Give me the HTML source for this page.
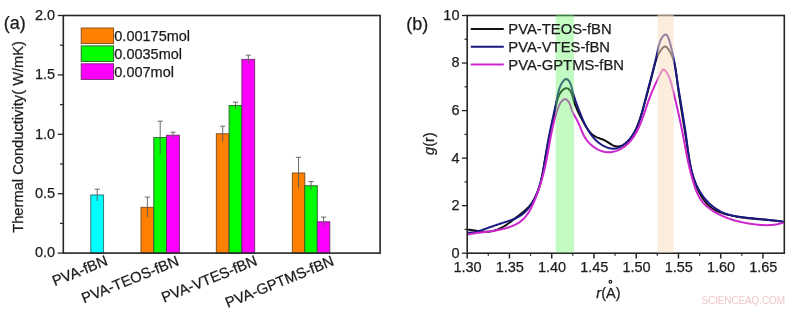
<!DOCTYPE html><html><head><meta charset="utf-8"><style>html,body{margin:0;padding:0;background:#fff;overflow:hidden;}svg{display:block;will-change:transform;}text{font-family:"Liberation Sans",sans-serif;fill:#1c1c1c;stroke:#1c1c1c;stroke-width:0.25px;}</style></head><body>
<svg width="800" height="309" viewBox="0 0 800 309">
<rect x="0" y="0" width="800" height="309" fill="#fff"/>
<rect x="90.80" y="195.00" width="12.80" height="58.10" fill="#00ffff" stroke="#2a6a6a" stroke-width="0.9"/>
<path d="M97.20,189.20 V201.00 M94.60,189.20 H99.80" stroke="#5a5a5a" stroke-width="0.9" fill="none"/>
<rect x="141.00" y="207.30" width="12.80" height="45.80" fill="#ff8000" stroke="#7a4a1a" stroke-width="0.9"/>
<path d="M147.40,197.10 V217.30 M144.80,197.10 H150.00" stroke="#5a5a5a" stroke-width="0.9" fill="none"/>
<rect x="153.80" y="137.60" width="12.80" height="115.50" fill="#00ff00" stroke="#2a5a2a" stroke-width="0.9"/>
<path d="M160.20,121.20 V154.00 M157.60,121.20 H162.80" stroke="#5a5a5a" stroke-width="0.9" fill="none"/>
<rect x="166.60" y="135.20" width="12.80" height="117.90" fill="#ff00ff" stroke="#6a2a6a" stroke-width="0.9"/>
<path d="M173.00,132.20 V138.20 M170.40,132.20 H175.60" stroke="#5a5a5a" stroke-width="0.9" fill="none"/>
<rect x="216.30" y="133.80" width="12.80" height="119.30" fill="#ff8000" stroke="#7a4a1a" stroke-width="0.9"/>
<path d="M222.70,126.20 V141.40 M220.10,126.20 H225.30" stroke="#5a5a5a" stroke-width="0.9" fill="none"/>
<rect x="229.10" y="105.60" width="12.80" height="147.50" fill="#00ff00" stroke="#2a5a2a" stroke-width="0.9"/>
<path d="M235.50,102.20 V109.00 M232.90,102.20 H238.10" stroke="#5a5a5a" stroke-width="0.9" fill="none"/>
<rect x="241.90" y="59.40" width="12.80" height="193.70" fill="#ff00ff" stroke="#6a2a6a" stroke-width="0.9"/>
<path d="M248.30,55.20 V63.60 M245.70,55.20 H250.90" stroke="#5a5a5a" stroke-width="0.9" fill="none"/>
<rect x="292.30" y="173.00" width="12.50" height="80.10" fill="#ff8000" stroke="#7a4a1a" stroke-width="0.9"/>
<path d="M298.55,157.30 V188.50 M295.95,157.30 H301.15" stroke="#5a5a5a" stroke-width="0.9" fill="none"/>
<rect x="304.80" y="185.80" width="12.50" height="67.30" fill="#00ff00" stroke="#2a5a2a" stroke-width="0.9"/>
<path d="M311.05,181.60 V190.00 M308.45,181.60 H313.65" stroke="#5a5a5a" stroke-width="0.9" fill="none"/>
<rect x="317.30" y="221.80" width="12.50" height="31.30" fill="#ff00ff" stroke="#6a2a6a" stroke-width="0.9"/>
<path d="M323.55,217.10 V226.50 M320.95,217.10 H326.15" stroke="#5a5a5a" stroke-width="0.9" fill="none"/>
<rect x="81.2" y="28.00" width="32.4" height="15.6" fill="#ff8000" stroke="#7a4a1a" stroke-width="0.9"/>
<text x="114.3" y="41.20" font-size="14.5">0.00175mol</text>
<rect x="81.2" y="45.90" width="32.4" height="15.6" fill="#00ff00" stroke="#2a5a2a" stroke-width="0.9"/>
<text x="114.3" y="59.10" font-size="14.5">0.0035mol</text>
<rect x="81.2" y="63.80" width="32.4" height="15.6" fill="#ff00ff" stroke="#6a2a6a" stroke-width="0.9"/>
<text x="114.3" y="77.00" font-size="14.5">0.007mol</text>
<rect x="63.30" y="15.50" width="316.80" height="237.60" fill="none" stroke="#262626" stroke-width="1.6"/>
<line x1="57.8" y1="15.50" x2="63.30" y2="15.50" stroke="#262626" stroke-width="1.3"/>
<text x="55.2" y="19.80" font-size="14.5" text-anchor="end">2.0</text>
<line x1="57.8" y1="74.90" x2="63.30" y2="74.90" stroke="#262626" stroke-width="1.3"/>
<text x="55.2" y="79.20" font-size="14.5" text-anchor="end">1.5</text>
<line x1="57.8" y1="134.30" x2="63.30" y2="134.30" stroke="#262626" stroke-width="1.3"/>
<text x="55.2" y="138.60" font-size="14.5" text-anchor="end">1.0</text>
<line x1="57.8" y1="193.70" x2="63.30" y2="193.70" stroke="#262626" stroke-width="1.3"/>
<text x="55.2" y="198.00" font-size="14.5" text-anchor="end">0.5</text>
<line x1="57.8" y1="253.10" x2="63.30" y2="253.10" stroke="#262626" stroke-width="1.3"/>
<text x="55.2" y="257.40" font-size="14.5" text-anchor="end">0.0</text>
<line x1="60" y1="45.20" x2="63.30" y2="45.20" stroke="#262626" stroke-width="1.2"/>
<line x1="60" y1="104.60" x2="63.30" y2="104.60" stroke="#262626" stroke-width="1.2"/>
<line x1="60" y1="164.00" x2="63.30" y2="164.00" stroke="#262626" stroke-width="1.2"/>
<line x1="60" y1="223.40" x2="63.30" y2="223.40" stroke="#262626" stroke-width="1.2"/>
<text x="108.60" y="264.60" font-size="14.8" text-anchor="end" transform="rotate(-22 108.60 264.60)">PVA-fBN</text>
<text x="179.90" y="264.80" font-size="14.8" text-anchor="end" transform="rotate(-22 179.90 264.80)">PVA-TEOS-fBN</text>
<text x="258.20" y="264.60" font-size="14.8" text-anchor="end" transform="rotate(-22 258.20 264.60)">PVA-VTES-fBN</text>
<text x="335.00" y="264.80" font-size="14.8" text-anchor="end" transform="rotate(-22 335.00 264.80)">PVA-GPTMS-fBN</text>
<text x="0" y="0" font-size="14.7" text-anchor="middle" transform="translate(23.3 136.9) rotate(-90)">Thermal Conductivity( W/mK)</text>
<text x="3.8" y="29" font-size="18">(a)</text>
<path d="M467.22,229.65 L468.10,229.69 L468.99,229.76 L469.88,229.84 L470.79,229.94 L471.69,230.06 L472.60,230.18 L473.52,230.32 L474.44,230.46 L475.36,230.61 L476.28,230.76 L477.21,230.91 L478.14,231.06 L479.07,231.20 L479.99,231.33 L480.92,231.45 L481.85,231.56 L482.78,231.65 L483.71,231.72 L484.63,231.77 L485.55,231.80 L486.47,231.80 L487.38,231.78 L488.29,231.72 L489.20,231.63 L490.10,231.52 L491.00,231.37 L491.89,231.20 L492.77,231.01 L493.65,230.79 L494.53,230.54 L495.39,230.27 L496.25,229.98 L497.11,229.67 L497.95,229.34 L498.79,228.99 L499.63,228.61 L500.45,228.22 L501.27,227.81 L502.08,227.39 L502.87,226.95 L503.67,226.50 L504.45,226.03 L505.22,225.55 L505.99,225.06 L506.75,224.55 L507.51,224.04 L508.26,223.51 L509.00,222.98 L509.75,222.44 L510.49,221.89 L511.22,221.34 L511.96,220.78 L512.69,220.22 L513.43,219.66 L514.16,219.09 L514.89,218.52 L515.63,217.96 L516.37,217.39 L517.11,216.82 L517.85,216.25 L518.59,215.68 L519.33,215.11 L520.07,214.54 L520.80,213.97 L521.53,213.39 L522.25,212.81 L522.97,212.22 L523.68,211.63 L524.38,211.03 L525.07,210.42 L525.75,209.80 L526.42,209.18 L527.07,208.55 L527.71,207.91 L528.34,207.26 L528.95,206.59 L529.54,205.92 L530.12,205.23 L530.68,204.54 L531.22,203.83 L531.74,203.11 L532.25,202.38 L532.75,201.64 L533.22,200.88 L533.69,200.12 L534.14,199.35 L534.57,198.57 L534.99,197.78 L535.40,196.99 L535.80,196.18 L536.18,195.37 L536.55,194.54 L536.90,193.71 L537.25,192.88 L537.58,192.03 L537.91,191.18 L538.22,190.33 L538.52,189.46 L538.81,188.59 L539.10,187.72 L539.37,186.84 L539.63,185.95 L539.89,185.06 L540.14,184.16 L540.38,183.27 L540.61,182.36 L540.83,181.45 L541.05,180.54 L541.26,179.63 L541.47,178.71 L541.67,177.79 L541.86,176.87 L542.05,175.95 L542.24,175.02 L542.42,174.10 L542.59,173.17 L542.77,172.24 L542.93,171.31 L543.10,170.38 L543.26,169.45 L543.42,168.52 L543.58,167.59 L543.74,166.66 L543.90,165.73 L544.05,164.80 L544.21,163.88 L544.36,162.95 L544.52,162.03 L544.67,161.11 L544.83,160.19 L544.98,159.28 L545.14,158.37 L545.30,157.46 L545.46,156.56 L545.63,155.65 L545.79,154.75 L545.96,153.86 L546.12,152.96 L546.29,152.07 L546.46,151.18 L546.63,150.29 L546.80,149.40 L546.97,148.51 L547.14,147.63 L547.32,146.75 L547.49,145.86 L547.67,144.98 L547.85,144.10 L548.02,143.22 L548.20,142.35 L548.38,141.47 L548.56,140.59 L548.74,139.71 L548.93,138.84 L549.11,137.96 L549.29,137.08 L549.48,136.21 L549.66,135.33 L549.85,134.45 L550.04,133.57 L550.22,132.69 L550.41,131.81 L550.60,130.93 L550.79,130.05 L550.98,129.17 L551.17,128.28 L551.36,127.40 L551.55,126.51 L551.74,125.62 L551.93,124.73 L552.13,123.84 L552.32,122.94 L552.51,122.04 L552.71,121.14 L552.90,120.24 L553.09,119.34 L553.29,118.43 L553.48,117.52 L553.68,116.61 L553.87,115.69 L554.07,114.77 L554.26,113.85 L554.46,112.92 L554.65,111.99 L554.85,111.06 L555.04,110.12 L555.24,109.18 L555.43,108.23 L555.63,107.28 L555.82,106.33 L556.02,105.37 L556.23,104.42 L556.44,103.47 L556.66,102.53 L556.89,101.59 L557.13,100.67 L557.39,99.75 L557.66,98.85 L557.96,97.96 L558.27,97.09 L558.60,96.25 L558.96,95.42 L559.35,94.62 L559.76,93.84 L560.20,93.10 L560.67,92.38 L561.18,91.70 L561.72,91.05 L562.30,90.44 L562.92,89.86 L563.58,89.33 L564.28,88.86 L565.01,88.49 L565.77,88.27 L566.53,88.24 L567.29,88.39 L568.02,88.69 L568.69,89.11 L569.30,89.64 L569.85,90.25 L570.35,90.95 L570.80,91.72 L571.21,92.55 L571.58,93.44 L571.92,94.36 L572.24,95.33 L572.54,96.31 L572.82,97.31 L573.10,98.31 L573.37,99.31 L573.66,100.29 L573.94,101.25 L574.24,102.19 L574.54,103.12 L574.86,104.02 L575.17,104.91 L575.50,105.78 L575.83,106.63 L576.17,107.48 L576.52,108.31 L576.87,109.13 L577.23,109.94 L577.60,110.75 L577.97,111.54 L578.35,112.34 L578.73,113.12 L579.12,113.91 L579.51,114.69 L579.91,115.47 L580.31,116.25 L580.72,117.03 L581.13,117.82 L581.55,118.61 L581.97,119.41 L582.39,120.21 L582.82,121.02 L583.25,121.83 L583.69,122.65 L584.14,123.47 L584.59,124.29 L585.06,125.10 L585.53,125.91 L586.02,126.71 L586.51,127.50 L587.02,128.28 L587.55,129.05 L588.09,129.80 L588.64,130.54 L589.21,131.26 L589.80,131.95 L590.41,132.62 L591.04,133.27 L591.69,133.89 L592.36,134.48 L593.06,135.04 L593.78,135.57 L594.52,136.06 L595.29,136.51 L596.09,136.93 L596.91,137.31 L597.75,137.66 L598.61,137.99 L599.49,138.31 L600.37,138.62 L601.26,138.94 L602.15,139.26 L603.03,139.61 L603.91,139.98 L604.78,140.38 L605.63,140.83 L606.47,141.31 L607.29,141.82 L608.10,142.36 L608.91,142.89 L609.71,143.43 L610.51,143.95 L611.31,144.45 L612.11,144.92 L612.92,145.33 L613.73,145.70 L614.56,146.00 L615.40,146.22 L616.25,146.36 L617.12,146.42 L617.98,146.41 L618.85,146.34 L619.71,146.20 L620.56,146.00 L621.39,145.74 L622.21,145.43 L623.00,145.07 L623.78,144.67 L624.53,144.22 L625.26,143.73 L625.98,143.20 L626.67,142.63 L627.34,142.03 L628.00,141.39 L628.63,140.73 L629.25,140.03 L629.85,139.31 L630.43,138.57 L630.99,137.81 L631.54,137.02 L632.07,136.22 L632.59,135.41 L633.08,134.59 L633.57,133.75 L634.03,132.91 L634.49,132.06 L634.92,131.22 L635.35,130.37 L635.76,129.52 L636.15,128.66 L636.54,127.81 L636.91,126.96 L637.27,126.11 L637.62,125.25 L637.96,124.40 L638.29,123.54 L638.61,122.69 L638.92,121.83 L639.23,120.97 L639.52,120.11 L639.81,119.25 L640.10,118.39 L640.37,117.53 L640.65,116.67 L640.91,115.81 L641.18,114.94 L641.44,114.08 L641.70,113.21 L641.95,112.35 L642.20,111.48 L642.45,110.61 L642.71,109.74 L642.96,108.87 L643.21,108.00 L643.46,107.13 L643.70,106.25 L643.95,105.38 L644.20,104.50 L644.45,103.63 L644.70,102.75 L644.95,101.87 L645.19,100.99 L645.44,100.11 L645.69,99.23 L645.93,98.35 L646.18,97.47 L646.42,96.59 L646.67,95.70 L646.91,94.82 L647.15,93.93 L647.39,93.05 L647.64,92.16 L647.88,91.27 L648.12,90.39 L648.36,89.50 L648.60,88.61 L648.84,87.72 L649.07,86.83 L649.31,85.94 L649.55,85.05 L649.78,84.15 L650.02,83.26 L650.25,82.37 L650.49,81.47 L650.72,80.58 L650.95,79.68 L651.18,78.79 L651.41,77.89 L651.64,76.99 L651.87,76.10 L652.09,75.20 L652.32,74.30 L652.55,73.40 L652.77,72.50 L652.99,71.60 L653.22,70.70 L653.44,69.80 L653.66,68.90 L653.88,68.00 L654.10,67.10 L654.33,66.21 L654.56,65.31 L654.79,64.42 L655.04,63.52 L655.29,62.64 L655.55,61.75 L655.82,60.87 L656.11,59.99 L656.41,59.12 L656.72,58.26 L657.06,57.40 L657.41,56.55 L657.77,55.70 L658.16,54.86 L658.58,54.03 L659.01,53.21 L659.47,52.40 L659.95,51.60 L660.47,50.81 L661.01,50.02 L661.58,49.25 L662.18,48.50 L662.81,47.78 L663.46,47.17 L664.12,46.71 L664.78,46.46 L665.43,46.48 L666.07,46.76 L666.69,47.25 L667.30,47.88 L667.88,48.62 L668.44,49.39 L668.97,50.17 L669.47,50.96 L669.95,51.76 L670.41,52.56 L670.84,53.38 L671.25,54.20 L671.64,55.04 L672.01,55.87 L672.36,56.72 L672.69,57.57 L673.00,58.43 L673.30,59.30 L673.57,60.17 L673.84,61.05 L674.08,61.93 L674.31,62.81 L674.53,63.71 L674.74,64.60 L674.93,65.50 L675.12,66.40 L675.29,67.31 L675.45,68.22 L675.61,69.13 L675.75,70.05 L675.89,70.97 L676.03,71.89 L676.15,72.81 L676.28,73.73 L676.40,74.65 L676.51,75.58 L676.63,76.50 L676.74,77.43 L676.85,78.35 L676.97,79.27 L677.08,80.20 L677.19,81.12 L677.31,82.04 L677.43,82.96 L677.55,83.88 L677.67,84.80 L677.79,85.71 L677.91,86.63 L678.04,87.54 L678.17,88.46 L678.29,89.37 L678.42,90.29 L678.55,91.20 L678.68,92.11 L678.82,93.02 L678.95,93.93 L679.08,94.84 L679.22,95.75 L679.35,96.66 L679.49,97.56 L679.63,98.47 L679.77,99.38 L679.91,100.28 L680.05,101.19 L680.19,102.09 L680.33,103.00 L680.47,103.90 L680.62,104.81 L680.76,105.71 L680.90,106.61 L681.05,107.52 L681.19,108.42 L681.34,109.32 L681.48,110.23 L681.63,111.13 L681.78,112.03 L681.92,112.93 L682.07,113.83 L682.22,114.74 L682.36,115.64 L682.51,116.54 L682.66,117.44 L682.81,118.34 L682.95,119.24 L683.10,120.15 L683.25,121.05 L683.39,121.95 L683.54,122.85 L683.69,123.75 L683.83,124.66 L683.98,125.56 L684.12,126.46 L684.27,127.37 L684.41,128.27 L684.56,129.18 L684.70,130.08 L684.84,130.99 L684.99,131.89 L685.13,132.80 L685.27,133.70 L685.41,134.61 L685.55,135.52 L685.69,136.43 L685.83,137.33 L685.97,138.24 L686.10,139.15 L686.24,140.06 L686.37,140.98 L686.51,141.89 L686.64,142.80 L686.77,143.71 L686.91,144.63 L687.04,145.54 L687.17,146.45 L687.30,147.37 L687.44,148.28 L687.57,149.20 L687.71,150.11 L687.85,151.02 L687.99,151.94 L688.13,152.85 L688.27,153.76 L688.41,154.68 L688.56,155.59 L688.71,156.50 L688.86,157.41 L689.01,158.32 L689.17,159.23 L689.33,160.14 L689.49,161.05 L689.66,161.95 L689.83,162.86 L690.00,163.76 L690.18,164.67 L690.37,165.57 L690.55,166.47 L690.75,167.37 L690.94,168.26 L691.14,169.16 L691.35,170.05 L691.57,170.95 L691.78,171.84 L692.01,172.72 L692.24,173.61 L692.48,174.50 L692.72,175.38 L692.97,176.26 L693.23,177.13 L693.49,178.01 L693.77,178.88 L694.05,179.75 L694.33,180.62 L694.63,181.49 L694.93,182.35 L695.24,183.21 L695.56,184.06 L695.89,184.92 L696.23,185.77 L696.57,186.62 L696.93,187.46 L697.29,188.30 L697.67,189.14 L698.05,189.97 L698.45,190.80 L698.85,191.63 L699.27,192.45 L699.69,193.27 L700.13,194.08 L700.58,194.88 L701.04,195.68 L701.51,196.47 L702.00,197.25 L702.49,198.02 L703.01,198.77 L703.53,199.52 L704.07,200.26 L704.62,200.98 L705.18,201.70 L705.77,202.39 L706.36,203.08 L706.97,203.75 L707.60,204.40 L708.24,205.04 L708.89,205.65 L709.57,206.26 L710.26,206.84 L710.97,207.40 L711.69,207.95 L712.43,208.47 L713.19,208.97 L713.97,209.45 L714.77,209.91 L715.58,210.35 L716.41,210.76 L717.26,211.15 L718.12,211.53 L718.99,211.88 L719.87,212.22 L720.75,212.54 L721.65,212.85 L722.55,213.15 L723.45,213.43 L724.36,213.70 L725.26,213.97 L726.16,214.22 L727.06,214.47 L727.96,214.70 L728.86,214.93 L729.76,215.15 L730.65,215.37 L731.55,215.57 L732.44,215.77 L733.34,215.96 L734.23,216.14 L735.12,216.32 L736.02,216.49 L736.91,216.66 L737.81,216.81 L738.70,216.97 L739.60,217.11 L740.49,217.25 L741.39,217.39 L742.29,217.52 L743.19,217.64 L744.09,217.76 L744.99,217.88 L745.90,217.99 L746.80,218.09 L747.71,218.20 L748.62,218.30 L749.53,218.39 L750.44,218.48 L751.36,218.57 L752.27,218.66 L753.19,218.74 L754.10,218.82 L755.02,218.90 L755.94,218.98 L756.86,219.06 L757.78,219.14 L758.70,219.21 L759.62,219.29 L760.54,219.36 L761.46,219.43 L762.38,219.51 L763.30,219.58 L764.22,219.66 L765.14,219.74 L766.06,219.81 L766.98,219.89 L767.90,219.98 L768.82,220.06 L769.74,220.14 L770.66,220.23 L771.57,220.32 L772.49,220.42 L773.41,220.52 L774.32,220.62 L775.23,220.72 L776.14,220.83 L777.05,220.94 L777.96,221.06 L778.87,221.18 L779.78,221.31 L780.68,221.45 L781.58,221.59 L782.48,221.73 L783.38,221.88 L784.28,222.04" fill="none" stroke="#111111" stroke-width="2" stroke-linejoin="round"/>
<path d="M467.20,232.55 L468.18,232.61 L469.17,232.63 L470.15,232.62 L471.12,232.56 L472.09,232.47 L473.06,232.35 L474.02,232.20 L474.98,232.03 L475.94,231.82 L476.89,231.60 L477.84,231.35 L478.79,231.08 L479.73,230.80 L480.67,230.51 L481.60,230.20 L482.53,229.88 L483.46,229.55 L484.39,229.22 L485.31,228.89 L486.23,228.55 L487.15,228.22 L488.06,227.89 L488.97,227.56 L489.88,227.23 L490.79,226.91 L491.69,226.59 L492.60,226.27 L493.51,225.96 L494.41,225.65 L495.32,225.34 L496.23,225.03 L497.14,224.72 L498.06,224.42 L498.97,224.12 L499.89,223.82 L500.82,223.52 L501.75,223.22 L502.68,222.92 L503.62,222.62 L504.57,222.33 L505.51,222.02 L506.46,221.72 L507.40,221.41 L508.34,221.10 L509.29,220.78 L510.22,220.45 L511.16,220.11 L512.09,219.76 L513.01,219.40 L513.92,219.03 L514.83,218.64 L515.72,218.24 L516.60,217.82 L517.47,217.38 L518.33,216.93 L519.18,216.45 L520.00,215.95 L520.81,215.43 L521.61,214.89 L522.38,214.32 L523.14,213.73 L523.87,213.11 L524.59,212.47 L525.29,211.80 L525.97,211.12 L526.63,210.41 L527.27,209.69 L527.90,208.94 L528.51,208.18 L529.10,207.41 L529.68,206.62 L530.24,205.81 L530.78,205.00 L531.31,204.17 L531.83,203.33 L532.33,202.49 L532.82,201.63 L533.30,200.77 L533.76,199.90 L534.21,199.03 L534.64,198.15 L535.07,197.27 L535.48,196.39 L535.88,195.50 L536.27,194.60 L536.65,193.70 L537.01,192.80 L537.37,191.90 L537.72,190.99 L538.05,190.07 L538.38,189.16 L538.70,188.23 L539.00,187.31 L539.30,186.38 L539.59,185.45 L539.87,184.52 L540.15,183.59 L540.41,182.65 L540.67,181.71 L540.92,180.76 L541.16,179.82 L541.40,178.87 L541.62,177.92 L541.85,176.97 L542.06,176.01 L542.28,175.06 L542.48,174.10 L542.68,173.14 L542.88,172.18 L543.07,171.21 L543.25,170.25 L543.43,169.28 L543.61,168.32 L543.78,167.35 L543.95,166.38 L544.12,165.41 L544.29,164.45 L544.45,163.48 L544.61,162.50 L544.76,161.53 L544.92,160.56 L545.07,159.59 L545.23,158.62 L545.38,157.65 L545.53,156.68 L545.68,155.71 L545.83,154.74 L545.98,153.77 L546.13,152.80 L546.28,151.83 L546.43,150.87 L546.58,149.90 L546.74,148.94 L546.89,147.97 L547.05,147.01 L547.21,146.05 L547.37,145.09 L547.54,144.13 L547.70,143.18 L547.87,142.22 L548.05,141.27 L548.22,140.32 L548.40,139.37 L548.58,138.42 L548.76,137.47 L548.94,136.52 L549.13,135.58 L549.32,134.63 L549.51,133.69 L549.70,132.74 L549.89,131.80 L550.09,130.85 L550.28,129.91 L550.48,128.96 L550.68,128.02 L550.88,127.08 L551.08,126.13 L551.28,125.19 L551.48,124.24 L551.69,123.30 L551.89,122.35 L552.10,121.40 L552.30,120.45 L552.51,119.51 L552.72,118.56 L552.92,117.60 L553.13,116.65 L553.34,115.70 L553.55,114.74 L553.75,113.79 L553.96,112.83 L554.17,111.87 L554.38,110.90 L554.58,109.94 L554.79,108.97 L555.00,108.00 L555.20,107.03 L555.41,106.06 L555.61,105.08 L555.82,104.11 L556.02,103.12 L556.22,102.14 L556.42,101.15 L556.62,100.16 L556.82,99.17 L557.01,98.17 L557.21,97.18 L557.42,96.18 L557.63,95.19 L557.84,94.21 L558.07,93.23 L558.31,92.26 L558.56,91.29 L558.82,90.34 L559.11,89.40 L559.41,88.48 L559.73,87.58 L560.07,86.69 L560.44,85.82 L560.84,84.97 L561.26,84.15 L561.72,83.35 L562.20,82.58 L562.72,81.83 L563.28,81.12 L563.87,80.44 L564.50,79.80 L565.17,79.31 L565.87,79.05 L566.59,79.10 L567.30,79.40 L567.97,79.88 L568.58,80.48 L569.12,81.18 L569.61,81.97 L570.04,82.84 L570.44,83.77 L570.79,84.76 L571.12,85.78 L571.42,86.83 L571.71,87.90 L571.98,88.97 L572.26,90.03 L572.53,91.07 L572.81,92.09 L573.09,93.09 L573.38,94.08 L573.66,95.04 L573.95,96.00 L574.25,96.94 L574.54,97.86 L574.84,98.78 L575.15,99.69 L575.45,100.58 L575.76,101.47 L576.08,102.36 L576.39,103.24 L576.71,104.11 L577.03,104.99 L577.36,105.86 L577.69,106.73 L578.02,107.60 L578.35,108.48 L578.69,109.36 L579.03,110.24 L579.37,111.13 L579.72,112.03 L580.07,112.93 L580.43,113.83 L580.79,114.74 L581.16,115.65 L581.53,116.56 L581.90,117.47 L582.29,118.38 L582.68,119.29 L583.07,120.21 L583.48,121.11 L583.89,122.02 L584.31,122.92 L584.74,123.82 L585.17,124.72 L585.62,125.61 L586.08,126.49 L586.54,127.37 L587.02,128.24 L587.51,129.11 L588.00,129.96 L588.51,130.81 L589.03,131.64 L589.57,132.47 L590.11,133.28 L590.67,134.08 L591.24,134.87 L591.83,135.65 L592.43,136.41 L593.04,137.16 L593.67,137.90 L594.31,138.61 L594.97,139.31 L595.65,140.00 L596.34,140.66 L597.05,141.31 L597.77,141.94 L598.51,142.55 L599.27,143.14 L600.05,143.70 L600.85,144.25 L601.66,144.77 L602.50,145.27 L603.35,145.74 L604.23,146.19 L605.12,146.62 L606.04,147.01 L606.97,147.38 L607.91,147.71 L608.87,148.00 L609.83,148.24 L610.80,148.43 L611.77,148.57 L612.74,148.65 L613.71,148.66 L614.67,148.60 L615.62,148.47 L616.56,148.27 L617.49,148.00 L618.40,147.67 L619.30,147.29 L620.19,146.85 L621.06,146.36 L621.91,145.84 L622.74,145.28 L623.55,144.68 L624.35,144.07 L625.12,143.43 L625.87,142.78 L626.60,142.11 L627.31,141.43 L628.00,140.73 L628.66,140.02 L629.31,139.30 L629.94,138.57 L630.55,137.82 L631.14,137.06 L631.72,136.29 L632.27,135.51 L632.81,134.72 L633.33,133.91 L633.84,133.10 L634.33,132.28 L634.81,131.44 L635.27,130.60 L635.71,129.75 L636.15,128.89 L636.57,128.02 L636.97,127.14 L637.37,126.26 L637.75,125.37 L638.12,124.47 L638.48,123.57 L638.83,122.66 L639.17,121.74 L639.50,120.82 L639.83,119.89 L640.14,118.96 L640.44,118.03 L640.74,117.09 L641.03,116.14 L641.31,115.20 L641.59,114.25 L641.86,113.29 L642.12,112.34 L642.38,111.38 L642.64,110.42 L642.89,109.46 L643.14,108.50 L643.39,107.54 L643.63,106.58 L643.87,105.62 L644.11,104.66 L644.34,103.70 L644.58,102.74 L644.82,101.78 L645.05,100.83 L645.29,99.87 L645.53,98.92 L645.77,97.97 L646.01,97.03 L646.25,96.08 L646.49,95.14 L646.73,94.20 L646.98,93.26 L647.22,92.33 L647.47,91.39 L647.71,90.46 L647.96,89.52 L648.20,88.59 L648.45,87.66 L648.70,86.73 L648.95,85.80 L649.19,84.87 L649.44,83.95 L649.69,83.02 L649.93,82.09 L650.18,81.16 L650.43,80.23 L650.68,79.30 L650.92,78.37 L651.17,77.44 L651.42,76.51 L651.66,75.58 L651.91,74.65 L652.15,73.71 L652.40,72.78 L652.64,71.84 L652.88,70.90 L653.12,69.96 L653.36,69.02 L653.60,68.08 L653.84,67.13 L654.08,66.18 L654.32,65.23 L654.55,64.27 L654.79,63.32 L655.02,62.36 L655.25,61.39 L655.48,60.43 L655.71,59.46 L655.94,58.49 L656.17,57.51 L656.39,56.53 L656.61,55.55 L656.83,54.56 L657.05,53.56 L657.27,52.57 L657.48,51.57 L657.70,50.56 L657.91,49.56 L658.13,48.55 L658.35,47.55 L658.59,46.56 L658.83,45.58 L659.09,44.61 L659.37,43.66 L659.66,42.72 L659.98,41.81 L660.32,40.92 L660.69,40.06 L661.09,39.23 L661.52,38.44 L661.99,37.67 L662.49,36.95 L663.04,36.27 L663.62,35.64 L664.23,35.10 L664.83,34.70 L665.41,34.51 L665.95,34.53 L666.46,34.76 L666.93,35.16 L667.37,35.73 L667.78,36.43 L668.17,37.25 L668.54,38.16 L668.88,39.14 L669.21,40.17 L669.53,41.23 L669.83,42.29 L670.13,43.35 L670.41,44.40 L670.69,45.44 L670.96,46.48 L671.22,47.51 L671.48,48.54 L671.72,49.56 L671.96,50.58 L672.19,51.59 L672.42,52.60 L672.64,53.60 L672.85,54.59 L673.05,55.59 L673.26,56.58 L673.45,57.56 L673.64,58.54 L673.83,59.52 L674.01,60.49 L674.18,61.46 L674.36,62.43 L674.53,63.40 L674.69,64.36 L674.85,65.32 L675.01,66.28 L675.17,67.23 L675.32,68.18 L675.47,69.14 L675.62,70.09 L675.77,71.03 L675.91,71.98 L676.06,72.93 L676.20,73.87 L676.35,74.82 L676.49,75.76 L676.63,76.71 L676.78,77.65 L676.92,78.60 L677.07,79.54 L677.21,80.49 L677.36,81.43 L677.50,82.38 L677.65,83.32 L677.80,84.27 L677.95,85.22 L678.11,86.17 L678.26,87.12 L678.41,88.06 L678.57,89.01 L678.72,89.97 L678.88,90.92 L679.03,91.87 L679.19,92.82 L679.35,93.77 L679.50,94.73 L679.66,95.68 L679.82,96.64 L679.98,97.59 L680.14,98.55 L680.30,99.50 L680.46,100.46 L680.62,101.42 L680.78,102.38 L680.94,103.33 L681.10,104.29 L681.26,105.25 L681.42,106.21 L681.58,107.17 L681.74,108.14 L681.90,109.10 L682.06,110.06 L682.22,111.02 L682.38,111.99 L682.54,112.95 L682.69,113.92 L682.85,114.88 L683.01,115.85 L683.17,116.82 L683.32,117.78 L683.48,118.75 L683.64,119.72 L683.79,120.69 L683.94,121.66 L684.10,122.63 L684.25,123.60 L684.40,124.57 L684.55,125.55 L684.70,126.52 L684.85,127.49 L685.00,128.47 L685.14,129.44 L685.29,130.42 L685.43,131.39 L685.58,132.37 L685.72,133.35 L685.86,134.33 L686.00,135.31 L686.14,136.28 L686.27,137.26 L686.41,138.24 L686.54,139.23 L686.67,140.21 L686.80,141.19 L686.93,142.17 L687.06,143.16 L687.19,144.14 L687.31,145.12 L687.44,146.11 L687.57,147.09 L687.69,148.07 L687.82,149.06 L687.95,150.04 L688.08,151.02 L688.22,152.00 L688.35,152.98 L688.49,153.96 L688.63,154.94 L688.77,155.91 L688.92,156.89 L689.07,157.86 L689.23,158.83 L689.38,159.80 L689.55,160.77 L689.71,161.74 L689.89,162.70 L690.07,163.66 L690.25,164.62 L690.44,165.58 L690.64,166.54 L690.84,167.49 L691.05,168.44 L691.27,169.38 L691.49,170.33 L691.73,171.26 L691.97,172.20 L692.22,173.13 L692.48,174.06 L692.74,174.99 L693.02,175.91 L693.31,176.83 L693.60,177.74 L693.91,178.65 L694.23,179.55 L694.56,180.46 L694.90,181.35 L695.25,182.24 L695.61,183.13 L695.99,184.01 L696.37,184.89 L696.78,185.76 L697.19,186.62 L697.62,187.48 L698.06,188.34 L698.51,189.19 L698.98,190.03 L699.46,190.86 L699.96,191.70 L700.47,192.52 L701.00,193.34 L701.54,194.14 L702.09,194.95 L702.66,195.74 L703.24,196.52 L703.84,197.29 L704.44,198.06 L705.06,198.81 L705.70,199.56 L706.34,200.29 L707.00,201.01 L707.67,201.72 L708.36,202.42 L709.05,203.11 L709.76,203.78 L710.48,204.44 L711.21,205.08 L711.95,205.71 L712.71,206.33 L713.48,206.93 L714.25,207.52 L715.04,208.09 L715.84,208.64 L716.65,209.18 L717.47,209.70 L718.30,210.21 L719.14,210.69 L719.99,211.16 L720.85,211.61 L721.72,212.04 L722.60,212.45 L723.49,212.84 L724.39,213.21 L725.30,213.56 L726.22,213.89 L727.15,214.19 L728.08,214.49 L729.02,214.76 L729.97,215.02 L730.92,215.26 L731.88,215.48 L732.85,215.69 L733.82,215.89 L734.79,216.08 L735.77,216.25 L736.74,216.41 L737.73,216.57 L738.71,216.71 L739.70,216.85 L740.68,216.98 L741.67,217.10 L742.65,217.22 L743.64,217.34 L744.62,217.45 L745.60,217.55 L746.58,217.66 L747.56,217.77 L748.54,217.87 L749.51,217.97 L750.48,218.07 L751.45,218.17 L752.42,218.27 L753.39,218.36 L754.35,218.46 L755.32,218.55 L756.28,218.65 L757.24,218.74 L758.21,218.84 L759.17,218.93 L760.13,219.03 L761.09,219.12 L762.05,219.22 L763.01,219.32 L763.97,219.42 L764.93,219.51 L765.89,219.61 L766.85,219.72 L767.82,219.82 L768.78,219.92 L769.74,220.03 L770.70,220.14 L771.67,220.25 L772.63,220.37 L773.60,220.48 L774.57,220.60 L775.54,220.72 L776.51,220.85 L777.48,220.98 L778.46,221.11 L779.43,221.24 L780.41,221.38 L781.39,221.52 L782.37,221.67 L783.36,221.82 L784.34,221.98" fill="none" stroke="#1a1a82" stroke-width="2" stroke-linejoin="round"/>
<path d="M467.26,234.63 L468.07,234.46 L468.88,234.30 L469.69,234.15 L470.51,234.00 L471.33,233.86 L472.15,233.72 L472.98,233.58 L473.81,233.46 L474.64,233.33 L475.47,233.21 L476.31,233.09 L477.15,232.97 L478.00,232.86 L478.84,232.75 L479.69,232.64 L480.53,232.53 L481.38,232.42 L482.23,232.32 L483.09,232.21 L483.94,232.11 L484.79,232.00 L485.64,231.89 L486.50,231.79 L487.35,231.68 L488.21,231.57 L489.06,231.45 L489.92,231.34 L490.77,231.22 L491.62,231.10 L492.48,230.98 L493.33,230.85 L494.18,230.71 L495.02,230.58 L495.87,230.44 L496.72,230.29 L497.56,230.14 L498.40,229.98 L499.24,229.81 L500.08,229.64 L500.91,229.46 L501.74,229.28 L502.57,229.08 L503.40,228.88 L504.22,228.67 L505.04,228.45 L505.86,228.22 L506.67,227.98 L507.47,227.74 L508.28,227.48 L509.08,227.21 L509.87,226.93 L510.66,226.64 L511.45,226.34 L512.23,226.03 L513.00,225.70 L513.77,225.36 L514.53,225.01 L515.28,224.64 L516.03,224.26 L516.76,223.86 L517.49,223.45 L518.20,223.02 L518.90,222.58 L519.59,222.12 L520.27,221.64 L520.93,221.14 L521.57,220.62 L522.20,220.09 L522.81,219.53 L523.41,218.96 L523.99,218.37 L524.55,217.76 L525.11,217.14 L525.65,216.50 L526.17,215.85 L526.68,215.18 L527.18,214.50 L527.67,213.81 L528.14,213.11 L528.61,212.39 L529.06,211.66 L529.50,210.93 L529.93,210.18 L530.35,209.43 L530.77,208.66 L531.17,207.90 L531.56,207.12 L531.95,206.34 L532.33,205.55 L532.70,204.76 L533.07,203.96 L533.42,203.16 L533.77,202.36 L534.12,201.55 L534.46,200.75 L534.79,199.94 L535.13,199.14 L535.45,198.33 L535.77,197.52 L536.09,196.72 L536.40,195.91 L536.71,195.10 L537.01,194.30 L537.31,193.49 L537.61,192.68 L537.90,191.87 L538.19,191.07 L538.47,190.26 L538.75,189.45 L539.02,188.64 L539.29,187.83 L539.56,187.02 L539.82,186.21 L540.08,185.40 L540.33,184.59 L540.59,183.78 L540.83,182.97 L541.08,182.16 L541.32,181.35 L541.56,180.54 L541.79,179.73 L542.02,178.91 L542.25,178.10 L542.47,177.29 L542.69,176.47 L542.91,175.66 L543.12,174.84 L543.33,174.03 L543.54,173.21 L543.74,172.40 L543.94,171.58 L544.14,170.76 L544.34,169.95 L544.53,169.13 L544.72,168.31 L544.91,167.49 L545.09,166.67 L545.28,165.85 L545.46,165.03 L545.63,164.21 L545.81,163.39 L545.98,162.56 L546.15,161.74 L546.32,160.92 L546.48,160.09 L546.64,159.27 L546.80,158.44 L546.96,157.61 L547.12,156.79 L547.28,155.96 L547.43,155.13 L547.58,154.30 L547.73,153.47 L547.88,152.64 L548.03,151.81 L548.18,150.98 L548.33,150.15 L548.47,149.32 L548.62,148.48 L548.77,147.65 L548.91,146.82 L549.06,145.98 L549.21,145.15 L549.35,144.32 L549.50,143.48 L549.65,142.65 L549.80,141.81 L549.94,140.98 L550.09,140.14 L550.25,139.30 L550.40,138.47 L550.55,137.63 L550.71,136.80 L550.87,135.96 L551.03,135.12 L551.19,134.29 L551.35,133.45 L551.52,132.61 L551.68,131.78 L551.85,130.94 L552.03,130.10 L552.20,129.27 L552.38,128.43 L552.57,127.59 L552.75,126.76 L552.94,125.92 L553.13,125.08 L553.33,124.25 L553.53,123.41 L553.73,122.57 L553.94,121.74 L554.15,120.90 L554.37,120.07 L554.59,119.23 L554.82,118.40 L555.05,117.56 L555.29,116.73 L555.53,115.89 L555.77,115.06 L556.02,114.23 L556.28,113.39 L556.54,112.56 L556.81,111.73 L557.09,110.90 L557.37,110.07 L557.66,109.24 L557.95,108.41 L558.26,107.59 L558.57,106.77 L558.91,105.97 L559.26,105.19 L559.63,104.43 L560.03,103.69 L560.45,102.98 L560.90,102.30 L561.38,101.66 L561.90,101.06 L562.45,100.49 L563.04,99.98 L563.67,99.54 L564.32,99.23 L564.98,99.11 L565.65,99.20 L566.30,99.48 L566.94,99.92 L567.55,100.49 L568.13,101.16 L568.66,101.90 L569.14,102.69 L569.55,103.49 L569.92,104.30 L570.24,105.12 L570.52,105.94 L570.79,106.77 L571.04,107.59 L571.29,108.41 L571.55,109.22 L571.84,110.03 L572.15,110.82 L572.48,111.61 L572.84,112.39 L573.22,113.16 L573.62,113.93 L574.02,114.69 L574.44,115.45 L574.87,116.20 L575.29,116.95 L575.72,117.71 L576.14,118.46 L576.56,119.21 L576.96,119.97 L577.35,120.73 L577.72,121.49 L578.08,122.26 L578.43,123.02 L578.77,123.79 L579.11,124.56 L579.43,125.34 L579.75,126.11 L580.07,126.88 L580.38,127.65 L580.69,128.42 L581.01,129.19 L581.32,129.96 L581.64,130.72 L581.97,131.48 L582.30,132.24 L582.64,133.00 L582.99,133.74 L583.35,134.49 L583.72,135.23 L584.11,135.96 L584.51,136.69 L584.94,137.41 L585.37,138.12 L585.83,138.82 L586.31,139.52 L586.82,140.21 L587.35,140.89 L587.90,141.55 L588.47,142.21 L589.06,142.85 L589.67,143.48 L590.30,144.10 L590.95,144.70 L591.62,145.28 L592.30,145.85 L593.00,146.40 L593.72,146.93 L594.45,147.45 L595.19,147.94 L595.94,148.41 L596.71,148.85 L597.48,149.28 L598.27,149.67 L599.06,150.05 L599.86,150.40 L600.67,150.72 L601.48,151.01 L602.30,151.27 L603.13,151.51 L603.96,151.71 L604.79,151.88 L605.62,152.02 L606.45,152.12 L607.29,152.19 L608.12,152.23 L608.95,152.23 L609.79,152.20 L610.61,152.14 L611.44,152.04 L612.26,151.92 L613.08,151.77 L613.89,151.59 L614.70,151.38 L615.50,151.15 L616.29,150.89 L617.08,150.60 L617.86,150.29 L618.63,149.96 L619.39,149.61 L620.14,149.24 L620.88,148.84 L621.61,148.43 L622.33,147.99 L623.03,147.54 L623.72,147.07 L624.40,146.59 L625.07,146.09 L625.72,145.58 L626.35,145.05 L626.98,144.51 L627.58,143.95 L628.18,143.39 L628.76,142.81 L629.33,142.21 L629.89,141.61 L630.43,140.99 L630.97,140.36 L631.49,139.72 L632.00,139.07 L632.50,138.41 L632.98,137.73 L633.46,137.05 L633.93,136.36 L634.38,135.66 L634.83,134.95 L635.27,134.23 L635.70,133.50 L636.12,132.76 L636.53,132.02 L636.93,131.27 L637.32,130.51 L637.71,129.75 L638.09,128.97 L638.46,128.20 L638.82,127.41 L639.18,126.63 L639.53,125.83 L639.88,125.03 L640.21,124.23 L640.55,123.42 L640.87,122.61 L641.20,121.80 L641.51,120.98 L641.83,120.16 L642.13,119.33 L642.44,118.51 L642.74,117.68 L643.04,116.85 L643.33,116.02 L643.62,115.19 L643.91,114.36 L644.19,113.53 L644.48,112.69 L644.76,111.86 L645.04,111.03 L645.31,110.20 L645.59,109.37 L645.87,108.54 L646.14,107.72 L646.42,106.89 L646.69,106.07 L646.97,105.25 L647.25,104.44 L647.52,103.63 L647.80,102.82 L648.08,102.02 L648.36,101.22 L648.64,100.43 L648.93,99.64 L649.22,98.85 L649.51,98.08 L649.80,97.30 L650.09,96.53 L650.39,95.77 L650.69,95.00 L651.00,94.25 L651.30,93.49 L651.61,92.73 L651.92,91.98 L652.24,91.23 L652.56,90.48 L652.88,89.73 L653.21,88.98 L653.54,88.22 L653.87,87.47 L654.21,86.72 L654.55,85.96 L654.89,85.21 L655.24,84.45 L655.59,83.68 L655.95,82.92 L656.31,82.15 L656.68,81.37 L657.05,80.59 L657.42,79.81 L657.80,79.02 L658.18,78.22 L658.57,77.42 L658.96,76.61 L659.36,75.79 L659.76,74.97 L660.17,74.14 L660.58,73.30 L661.00,72.45 L661.43,71.63 L661.86,70.88 L662.32,70.26 L662.79,69.80 L663.29,69.56 L663.81,69.58 L664.36,69.85 L664.92,70.32 L665.48,70.95 L666.03,71.69 L666.56,72.49 L667.07,73.31 L667.55,74.13 L667.99,74.95 L668.41,75.77 L668.79,76.58 L669.16,77.39 L669.50,78.21 L669.82,79.02 L670.12,79.83 L670.40,80.64 L670.67,81.45 L670.92,82.26 L671.16,83.06 L671.39,83.87 L671.61,84.68 L671.82,85.49 L672.03,86.30 L672.23,87.11 L672.44,87.92 L672.64,88.73 L672.84,89.55 L673.04,90.36 L673.24,91.18 L673.44,91.99 L673.64,92.81 L673.84,93.63 L674.04,94.45 L674.24,95.27 L674.44,96.09 L674.64,96.91 L674.83,97.74 L675.03,98.56 L675.23,99.38 L675.43,100.21 L675.62,101.04 L675.82,101.86 L676.01,102.69 L676.21,103.52 L676.40,104.35 L676.60,105.17 L676.79,106.00 L676.98,106.83 L677.17,107.67 L677.37,108.50 L677.56,109.33 L677.75,110.16 L677.94,110.99 L678.12,111.83 L678.31,112.66 L678.50,113.49 L678.68,114.33 L678.87,115.16 L679.05,115.99 L679.23,116.83 L679.42,117.66 L679.60,118.50 L679.78,119.33 L679.96,120.17 L680.13,121.00 L680.31,121.84 L680.49,122.67 L680.66,123.51 L680.83,124.34 L681.01,125.18 L681.18,126.01 L681.35,126.85 L681.52,127.68 L681.68,128.52 L681.85,129.35 L682.01,130.19 L682.18,131.02 L682.34,131.85 L682.50,132.69 L682.66,133.52 L682.82,134.35 L682.98,135.19 L683.14,136.02 L683.29,136.85 L683.45,137.68 L683.60,138.51 L683.76,139.35 L683.91,140.18 L684.07,141.01 L684.22,141.84 L684.38,142.67 L684.53,143.50 L684.69,144.33 L684.84,145.16 L685.00,145.99 L685.15,146.82 L685.31,147.65 L685.46,148.48 L685.62,149.31 L685.78,150.13 L685.93,150.96 L686.09,151.79 L686.25,152.62 L686.41,153.45 L686.58,154.28 L686.74,155.10 L686.90,155.93 L687.07,156.76 L687.24,157.59 L687.41,158.41 L687.58,159.24 L687.75,160.07 L687.92,160.89 L688.10,161.72 L688.28,162.55 L688.46,163.37 L688.64,164.20 L688.83,165.03 L689.01,165.85 L689.20,166.68 L689.40,167.50 L689.59,168.33 L689.79,169.15 L689.99,169.98 L690.19,170.81 L690.40,171.63 L690.61,172.46 L690.82,173.28 L691.03,174.11 L691.25,174.93 L691.47,175.75 L691.70,176.58 L691.93,177.40 L692.16,178.23 L692.40,179.05 L692.64,179.88 L692.88,180.70 L693.13,181.53 L693.38,182.35 L693.64,183.17 L693.90,184.00 L694.17,184.82 L694.44,185.65 L694.71,186.47 L694.99,187.29 L695.28,188.11 L695.57,188.93 L695.87,189.74 L696.18,190.55 L696.50,191.35 L696.83,192.15 L697.17,192.94 L697.52,193.73 L697.88,194.50 L698.26,195.27 L698.64,196.03 L699.04,196.78 L699.46,197.51 L699.89,198.24 L700.33,198.95 L700.79,199.65 L701.27,200.34 L701.77,201.01 L702.28,201.67 L702.81,202.31 L703.35,202.94 L703.91,203.56 L704.48,204.16 L705.07,204.76 L705.67,205.33 L706.29,205.90 L706.91,206.45 L707.55,207.00 L708.20,207.53 L708.86,208.05 L709.53,208.56 L710.21,209.06 L710.90,209.54 L711.60,210.02 L712.30,210.49 L713.01,210.95 L713.73,211.40 L714.46,211.84 L715.19,212.27 L715.92,212.69 L716.66,213.10 L717.40,213.51 L718.15,213.90 L718.91,214.29 L719.67,214.67 L720.43,215.04 L721.20,215.41 L721.97,215.76 L722.74,216.11 L723.52,216.45 L724.31,216.78 L725.09,217.11 L725.88,217.43 L726.68,217.73 L727.47,218.04 L728.27,218.33 L729.08,218.62 L729.88,218.90 L730.69,219.17 L731.51,219.44 L732.32,219.70 L733.14,219.95 L733.96,220.20 L734.78,220.43 L735.60,220.67 L736.43,220.89 L737.26,221.11 L738.09,221.32 L738.92,221.53 L739.75,221.73 L740.59,221.93 L741.42,222.11 L742.26,222.30 L743.10,222.47 L743.94,222.64 L744.78,222.81 L745.62,222.97 L746.46,223.12 L747.31,223.27 L748.15,223.41 L748.99,223.55 L749.84,223.68 L750.68,223.81 L751.52,223.93 L752.37,224.05 L753.21,224.16 L754.05,224.27 L754.90,224.37 L755.74,224.47 L756.58,224.56 L757.42,224.65 L758.26,224.74 L759.10,224.81 L759.94,224.88 L760.78,224.94 L761.62,225.00 L762.46,225.05 L763.30,225.09 L764.14,225.12 L764.98,225.14 L765.81,225.15 L766.65,225.16 L767.49,225.15 L768.33,225.14 L769.17,225.11 L770.01,225.07 L770.85,225.02 L771.69,224.96 L772.52,224.89 L773.36,224.80 L774.20,224.70 L775.05,224.59 L775.89,224.46 L776.73,224.32 L777.57,224.16 L778.41,223.99 L779.26,223.81 L780.10,223.60 L780.95,223.39 L781.79,223.15 L782.64,222.90 L783.48,222.63 L784.33,222.34" fill="none" stroke="#cc26cc" stroke-width="2" stroke-linejoin="round"/>
<rect x="467.20" y="15.50" width="317.10" height="237.70" fill="none" stroke="#262626" stroke-width="1.6"/>
<line x1="461.9" y1="253.20" x2="467.20" y2="253.20" stroke="#262626" stroke-width="1.3"/>
<text x="459.5" y="257.60" font-size="14.5" text-anchor="end">0</text>
<line x1="461.9" y1="205.66" x2="467.20" y2="205.66" stroke="#262626" stroke-width="1.3"/>
<text x="459.5" y="210.06" font-size="14.5" text-anchor="end">2</text>
<line x1="461.9" y1="158.12" x2="467.20" y2="158.12" stroke="#262626" stroke-width="1.3"/>
<text x="459.5" y="162.52" font-size="14.5" text-anchor="end">4</text>
<line x1="461.9" y1="110.58" x2="467.20" y2="110.58" stroke="#262626" stroke-width="1.3"/>
<text x="459.5" y="114.98" font-size="14.5" text-anchor="end">6</text>
<line x1="461.9" y1="63.04" x2="467.20" y2="63.04" stroke="#262626" stroke-width="1.3"/>
<text x="459.5" y="67.44" font-size="14.5" text-anchor="end">8</text>
<line x1="461.9" y1="15.50" x2="467.20" y2="15.50" stroke="#262626" stroke-width="1.3"/>
<text x="459.5" y="19.90" font-size="14.5" text-anchor="end">10</text>
<line x1="464.5" y1="229.43" x2="467.20" y2="229.43" stroke="#262626" stroke-width="1.2"/>
<line x1="464.5" y1="181.89" x2="467.20" y2="181.89" stroke="#262626" stroke-width="1.2"/>
<line x1="464.5" y1="134.35" x2="467.20" y2="134.35" stroke="#262626" stroke-width="1.2"/>
<line x1="464.5" y1="86.81" x2="467.20" y2="86.81" stroke="#262626" stroke-width="1.2"/>
<line x1="464.5" y1="39.27" x2="467.20" y2="39.27" stroke="#262626" stroke-width="1.2"/>
<line x1="467.20" y1="253.20" x2="467.20" y2="258.5" stroke="#262626" stroke-width="1.5"/>
<text x="467.50" y="272.1" font-size="14.5" text-anchor="middle">1.30</text>
<line x1="509.45" y1="253.20" x2="509.45" y2="258.5" stroke="#262626" stroke-width="1.5"/>
<text x="509.75" y="272.1" font-size="14.5" text-anchor="middle">1.35</text>
<line x1="551.70" y1="253.20" x2="551.70" y2="258.5" stroke="#262626" stroke-width="1.5"/>
<text x="552.00" y="272.1" font-size="14.5" text-anchor="middle">1.40</text>
<line x1="593.95" y1="253.20" x2="593.95" y2="258.5" stroke="#262626" stroke-width="1.5"/>
<text x="594.25" y="272.1" font-size="14.5" text-anchor="middle">1.45</text>
<line x1="636.20" y1="253.20" x2="636.20" y2="258.5" stroke="#262626" stroke-width="1.5"/>
<text x="636.50" y="272.1" font-size="14.5" text-anchor="middle">1.50</text>
<line x1="678.45" y1="253.20" x2="678.45" y2="258.5" stroke="#262626" stroke-width="1.5"/>
<text x="678.75" y="272.1" font-size="14.5" text-anchor="middle">1.55</text>
<line x1="720.70" y1="253.20" x2="720.70" y2="258.5" stroke="#262626" stroke-width="1.5"/>
<text x="721.00" y="272.1" font-size="14.5" text-anchor="middle">1.60</text>
<line x1="762.95" y1="253.20" x2="762.95" y2="258.5" stroke="#262626" stroke-width="1.5"/>
<text x="763.25" y="272.1" font-size="14.5" text-anchor="middle">1.65</text>
<line x1="488.32" y1="253.20" x2="488.32" y2="255.8" stroke="#262626" stroke-width="1.2"/>
<line x1="530.57" y1="253.20" x2="530.57" y2="255.8" stroke="#262626" stroke-width="1.2"/>
<line x1="572.83" y1="253.20" x2="572.83" y2="255.8" stroke="#262626" stroke-width="1.2"/>
<line x1="615.08" y1="253.20" x2="615.08" y2="255.8" stroke="#262626" stroke-width="1.2"/>
<line x1="657.32" y1="253.20" x2="657.32" y2="255.8" stroke="#262626" stroke-width="1.2"/>
<line x1="699.57" y1="253.20" x2="699.57" y2="255.8" stroke="#262626" stroke-width="1.2"/>
<line x1="741.82" y1="253.20" x2="741.82" y2="255.8" stroke="#262626" stroke-width="1.2"/>
<rect x="555.6" y="14.6" width="18.4" height="237.9" fill="#66f866" fill-opacity="0.4"/>
<rect x="657.4" y="14.6" width="16.3" height="237.9" fill="#fadec0" fill-opacity="0.55"/>
<line x1="470.8" y1="29.00" x2="503.8" y2="29.00" stroke="#111111" stroke-width="2"/>
<text x="508.3" y="34.10" font-size="14.8">PVA-TEOS-fBN</text>
<line x1="470.8" y1="46.75" x2="503.8" y2="46.75" stroke="#1a1a82" stroke-width="2"/>
<text x="508.3" y="51.85" font-size="14.8">PVA-VTES-fBN</text>
<line x1="470.8" y1="64.50" x2="503.8" y2="64.50" stroke="#cc26cc" stroke-width="2"/>
<text x="508.3" y="69.60" font-size="14.8">PVA-GPTMS-fBN</text>
<text x="596.3" y="297.8" font-size="14.5"><tspan font-style="italic">r</tspan>(A)</text>
<circle cx="610.4" cy="281.7" r="1.35" fill="none" stroke="#1c1c1c" stroke-width="1.2"/>
<text x="0" y="0" font-size="14.5" text-anchor="middle" transform="translate(434.2 143.6) rotate(-90)"><tspan font-style="italic">g</tspan>(r)</text>
<text x="406.3" y="29.6" font-size="18">(b)</text>
<text x="701.5" y="303.7" font-size="10" style="fill:#f0c8c8;stroke:none" textLength="83.5">SCIENCEAQ.COM</text>
</svg></body></html>
